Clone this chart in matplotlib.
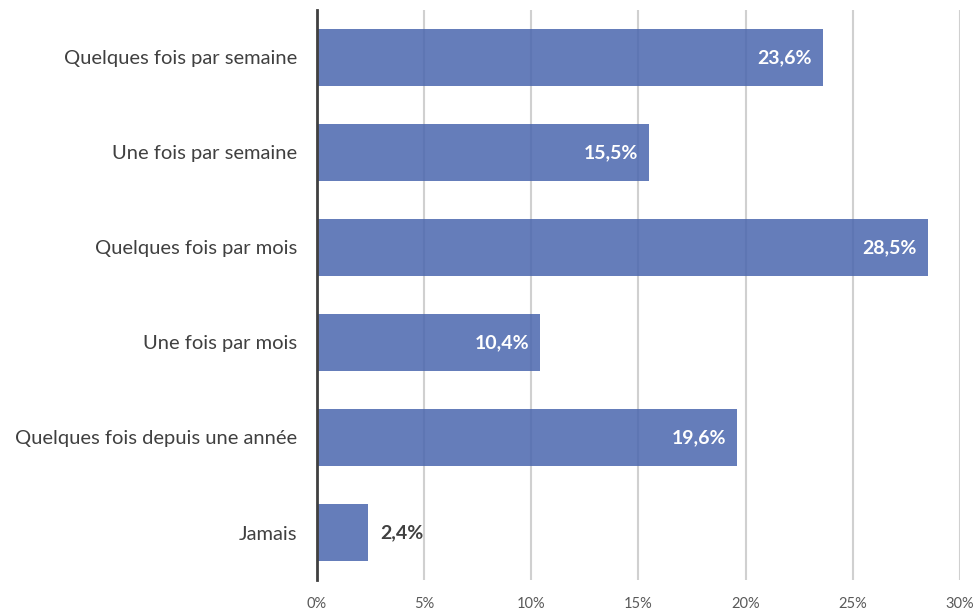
import matplotlib
matplotlib.use("Agg")
import matplotlib.pyplot as plt
from matplotlib.ticker import FuncFormatter

categories = [
    "Quelques fois par semaine",
    "Une fois par semaine",
    "Quelques fois par mois",
    "Une fois par mois",
    "Quelques fois depuis une année",
    "Jamais",
]
values = [23.6, 15.5, 28.5, 10.4, 19.6, 2.4]
xticks = [0, 5, 10, 15, 20, 25, 30]

plt.rcParams["font.family"] = ["Lato", "DejaVu Sans"]

fig = plt.figure(figsize=(9.77, 6.13), dpi=100)
ax = fig.add_axes([0.3245, 0.0538, 0.658, 0.93])

ypos = list(range(len(categories)))
ax.barh(ypos, values, height=0.6, color="#4a66ae", alpha=0.85, zorder=3)

for y, v in zip(ypos, values):
    txt = f"{v:.1f}%".replace(".", ",")
    if v >= 5:
        ax.text(v - 0.5, y, txt, ha="right", va="center", color="white",
                fontsize=14, fontweight="bold", zorder=4)
    else:
        ax.text(v + 0.55, y, txt, ha="left", va="center", color="#404040",
                fontsize=14, fontweight="bold", zorder=4)

ax.set_yticks(ypos)
ax.set_yticklabels(categories, fontsize=14.5, color="#404040")
ax.set_ylim(len(categories) - 0.5, -0.5)
ax.set_xlim(0, 30)
ax.set_xticks(xticks)
ax.xaxis.set_major_formatter(FuncFormatter(lambda x, p: f"{x:.0f}%"))
ax.tick_params(axis="x", labelsize=10.5, colors="#595959", length=0, pad=12)
ax.tick_params(axis="y", length=0, pad=14)

ax.grid(axis="x", color="#d0d0d0", linewidth=1.5, zorder=0)
for s in ["top", "right", "bottom"]:
    ax.spines[s].set_visible(False)
ax.spines["left"].set_color("#404040")
ax.spines["left"].set_linewidth(2)
ax.spines["left"].set_zorder(5)

fig.savefig("out.png", dpi=100)
